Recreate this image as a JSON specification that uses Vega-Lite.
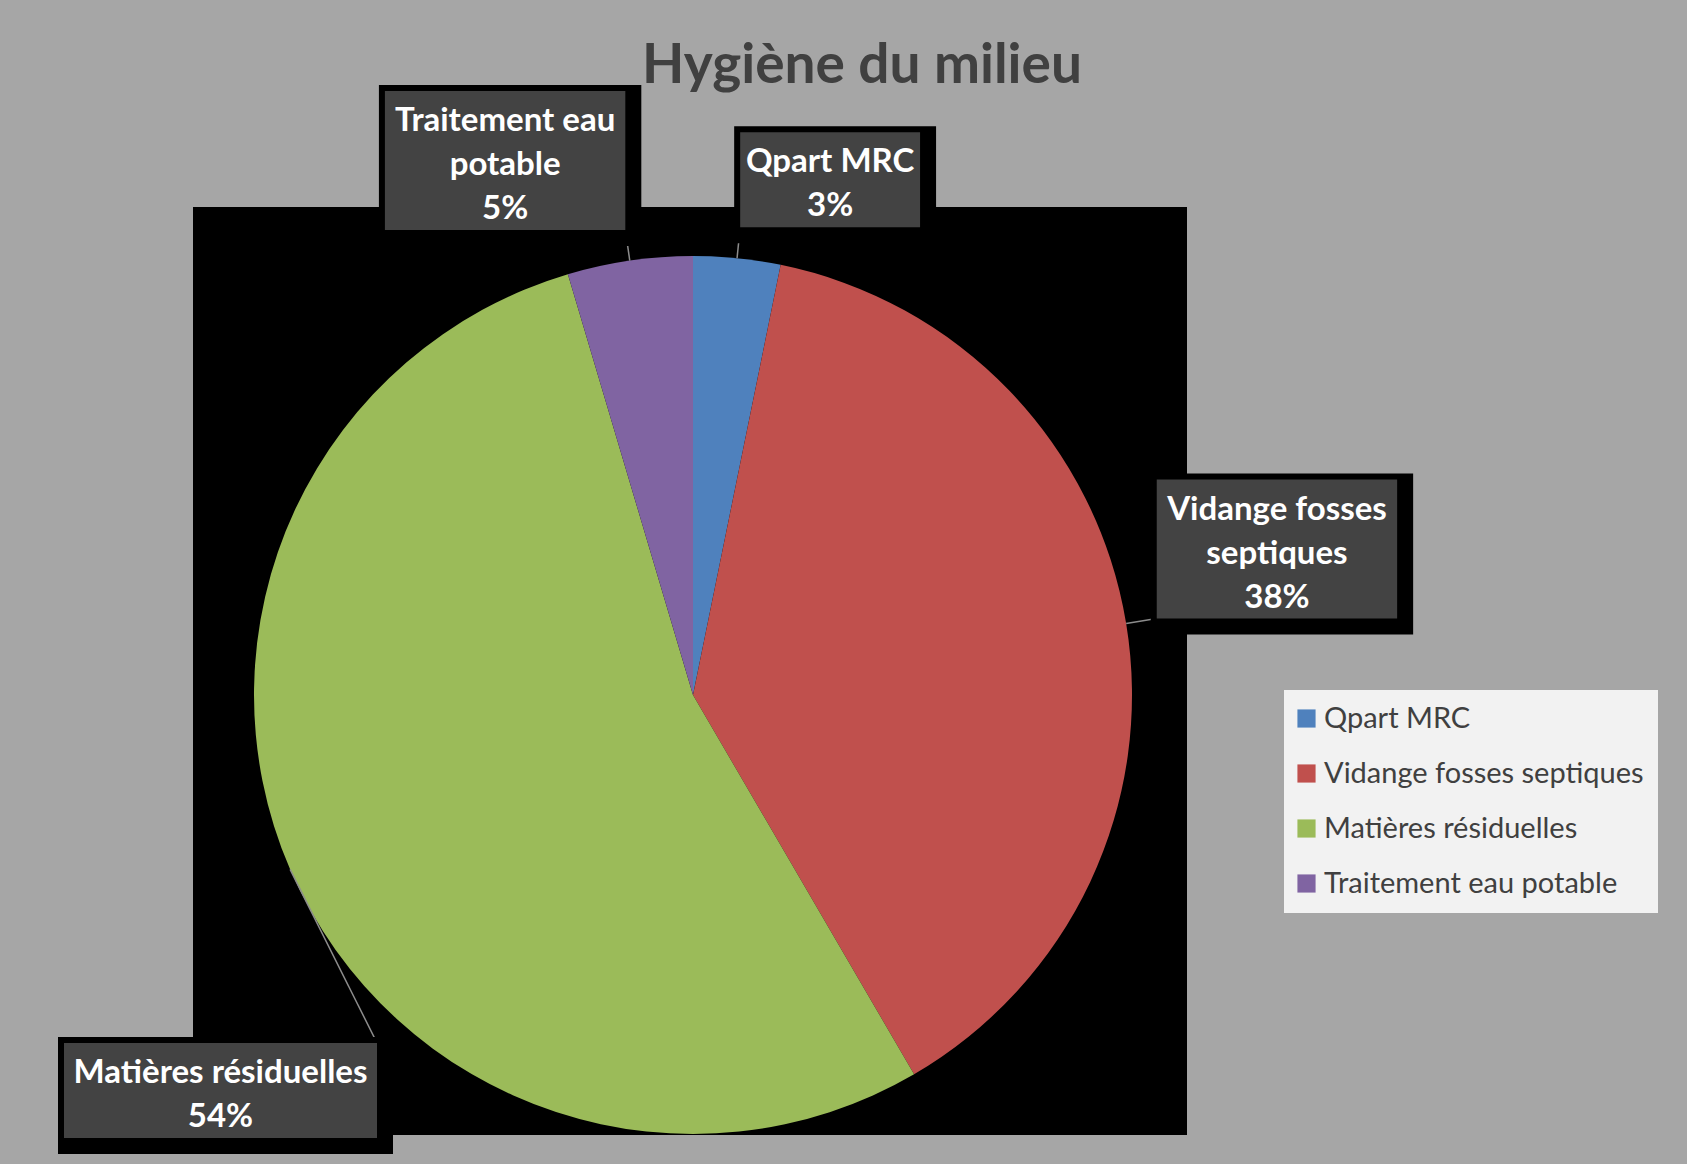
{
  "$schema": "https://vega.github.io/schema/vega-lite/v6.json",
  "width": 994,
  "height": 928,
  "autosize": {"type": "none"},
  "padding": {"left": 193, "top": 207, "right": 500, "bottom": 29},
  "background": "#A6A6A6",
  "title": {
    "text": "Hygiène du milieu",
    "font": "Lato",
    "fontSize": 55,
    "fontWeight": "bold",
    "color": "#404040",
    "anchor": "middle",
    "frame": "group",
    "baseline": "alphabetic",
    "offset": 0,
    "dx": 172,
    "dy": 53
  },
  "data": {
    "values": [
      {"name": "Qpart MRC", "value": 3.2},
      {"name": "Vidange fosses septiques", "value": 38.4},
      {"name": "Matières résiduelles", "value": 53.8},
      {"name": "Traitement eau potable", "value": 4.6}
    ]
  },
  "transform": [
    {"window": [{"op": "row_number", "as": "idx"}]},
    {"stack": "value", "groupby": [], "sort": [{"field": "idx", "order": "ascending"}], "offset": "normalize", "as": ["v0", "v1"]},
    {"calculate": "datum.v1 - datum.v0", "as": "pct"},
    {"calculate": "PI * (datum.v0 + datum.v1)", "as": "mid"},
    {"calculate": "replace(datum.name, regexp('^([^ ]+ [^ ]+) '), '$1|') + '|' + format(datum.pct, '.0%')", "as": "lbl"},
    {"calculate": "split(datum.lbl, '|')", "as": "lines"},
    {"calculate": "length(datum.lines)", "as": "n"},
    {"calculate": "max(length(datum.lines[0]), datum.n > 1 ? length(datum.lines[1]) : 0, datum.n > 2 ? length(datum.lines[2]) : 0)", "as": "mx"},
    {"calculate": "12.1 * datum.mx + 71", "as": "bw"},
    {"calculate": "44 * datum.n + 7", "as": "bh"},
    {"calculate": "sin(datum.mid) >= 0 ? 1 : -1", "as": "sx"},
    {"calculate": "cos(datum.mid) >= 0 ? 1 : -1", "as": "sy"},
    {"calculate": "470 * sin(datum.mid)", "as": "ax"},
    {"calculate": "470 * cos(datum.mid)", "as": "ay"},
    {"calculate": "clamp(datum.ax + datum.sx * datum.bw / 2, -629 + datum.bw / 2, 974 - datum.bw / 2)", "as": "cx"},
    {"calculate": "datum.cx - datum.sx * datum.bw / 2", "as": "nx"},
    {"calculate": "datum.sy * max(abs(datum.ay), sqrt(max(0, 470 * 470 - datum.nx * datum.nx)))", "as": "ny"},
    {"calculate": "datum.ny + datum.sy * datum.bh / 2", "as": "cy"},
    {"calculate": "datum.cx - datum.bw / 2", "as": "bx1"},
    {"calculate": "datum.cx + datum.bw / 2", "as": "bx2"},
    {"calculate": "datum.cy - datum.bh / 2", "as": "by1"},
    {"calculate": "datum.cy + datum.bh / 2", "as": "by2"},
    {"calculate": "439 * sin(datum.mid)", "as": "ex"},
    {"calculate": "439 * cos(datum.mid)", "as": "ey"}
  ],
  "layer": [
    {
      "mark": {"type": "arc", "radius": 439},
      "encoding": {
        "x": {"datum": 0, "type": "quantitative", "scale": {"domain": [-500, 494], "nice": false, "zero": false}, "axis": null},
        "y": {"datum": 0, "type": "quantitative", "scale": {"domain": [-440, 488], "nice": false, "zero": false}, "axis": null},
        "theta": {"field": "v0", "type": "quantitative", "stack": null, "scale": {"domain": [0, 1]}},
        "theta2": {"field": "v1"},
        "color": {
          "field": "name",
          "type": "nominal",
          "scale": {
            "domain": ["Qpart MRC", "Vidange fosses septiques", "Matières résiduelles", "Traitement eau potable"],
            "range": ["#4F81BD", "#C0504D", "#9BBB59", "#8064A2"]
          },
          "legend": {
            "title": null,
            "orient": "none",
            "legendX": 1091,
            "legendY": 483,
            "fillColor": "#F2F2F2",
            "padding": 14,
            "symbolType": "square",
            "symbolSize": 330,
            "symbolStrokeWidth": 0,
            "symbolOffset": -6,
            "labelFont": "Lato",
            "labelFontSize": 29,
            "labelColor": "#404040",
            "labelLimit": 0,
            "labelOffset": 3,
            "rowPadding": 25
          }
        }
      }
    },
    {
      "mark": {"type": "rule", "stroke": "#8C8C8C", "strokeWidth": 1.5},
      "encoding": {
        "x": {"field": "ex", "type": "quantitative", "axis": null},
        "y": {"field": "ey", "type": "quantitative", "axis": null},
        "x2": {"field": "nx"},
        "y2": {"field": "ny"}
      }
    },
    {
      "mark": {"type": "rect", "fill": "black", "stroke": "black", "strokeWidth": 22, "xOffset": 5, "x2Offset": 5, "yOffset": 5, "y2Offset": 5},
      "encoding": {
        "x": {"field": "bx1", "type": "quantitative", "axis": null},
        "x2": {"field": "bx2"},
        "y": {"field": "by1", "type": "quantitative", "axis": null},
        "y2": {"field": "by2"}
      }
    },
    {
      "mark": {"type": "rect", "fill": "#434343"},
      "encoding": {
        "x": {"field": "bx1", "type": "quantitative", "axis": null},
        "x2": {"field": "bx2"},
        "y": {"field": "by1", "type": "quantitative", "axis": null},
        "y2": {"field": "by2"}
      }
    },
    {
      "mark": {"type": "text", "font": "Lato", "fontSize": 33, "fontWeight": "bold", "fill": "white", "align": "center", "baseline": "top", "dy": 14, "lineBreak": "|", "lineHeight": 44},
      "encoding": {
        "x": {"field": "cx", "type": "quantitative", "axis": null},
        "y": {"field": "by2", "type": "quantitative", "axis": null},
        "text": {"field": "lbl"}
      }
    }
  ],
  "config": {
    "view": {"fill": "black", "stroke": null}
  }
}
